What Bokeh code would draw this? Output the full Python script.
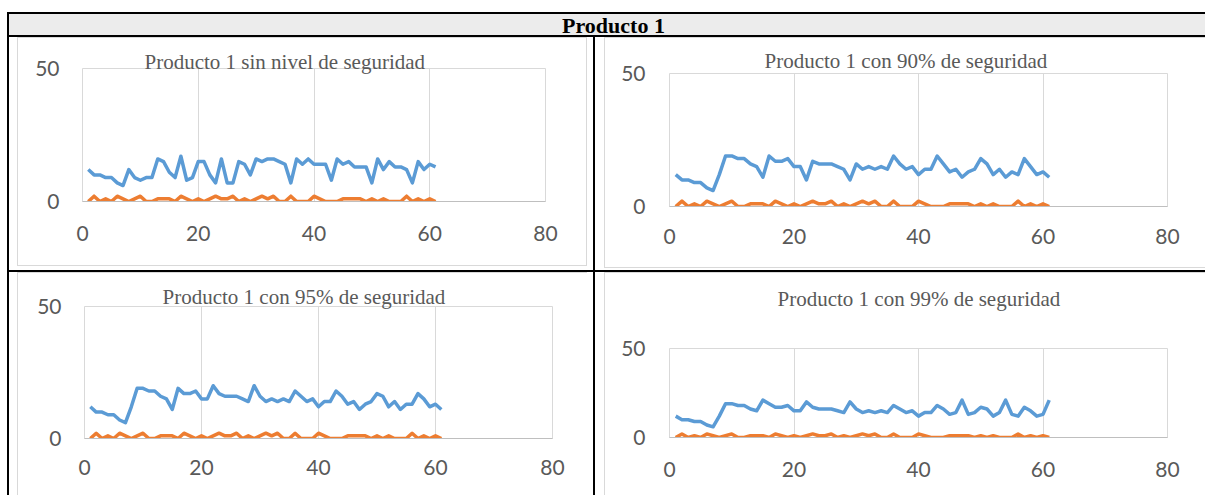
from bokeh.plotting import figure
from bokeh.models import Range1d, Label, FixedTicker, Spacer, ColumnDataSource
from bokeh.layouts import row, column
from bokeh.embed import file_html
from bokeh.resources import INLINE

# ---------------- data ----------------
periodo = list(range(1, 62))

faltante = [0, 2, 0, 1, 0, 2, 1, 0, 1, 2, 0, 0, 1, 1, 1, 0, 2, 1, 0, 1,
            0, 1, 2, 1, 1, 2, 0, 1, 0, 1, 2, 1, 2, 0, 0, 2, 0, 0, 0, 2,
            1, 0, 0, 0, 1, 1, 1, 1, 0, 1, 0, 1, 0, 0, 0, 2, 0, 1, 0, 1, 0]

inv_sin_nivel = [12, 10, 10, 9, 9, 7, 6, 12, 9, 8, 9, 9, 16, 15, 11, 9, 17, 8, 9, 15,
                 15, 10, 7, 16, 7, 7, 15, 14, 10, 16, 15, 16, 16, 15, 14, 7, 16, 14, 16, 14,
                 14, 14, 8, 16, 14, 15, 13, 13, 13, 7, 16, 12, 15, 13, 13, 12, 7, 15, 12, 14, 13]

inv_90 = [12, 10, 10, 9, 9, 7, 6, 12, 19, 19, 18, 18, 16, 15, 11, 19, 17, 17, 18, 15,
          15, 10, 17, 16, 16, 16, 15, 14, 10, 16, 14, 15, 14, 15, 14, 19, 16, 14, 15, 12,
          14, 14, 19, 16, 13, 14, 11, 13, 14, 18, 16, 12, 14, 11, 13, 12, 18, 15, 12, 13, 11]

inv_95 = [12, 10, 10, 9, 9, 7, 6, 12, 19, 19, 18, 18, 16, 15, 11, 19, 17, 17, 18, 15,
          15, 20, 17, 16, 16, 16, 15, 14, 20, 16, 14, 15, 14, 15, 14, 18, 16, 14, 15, 12,
          14, 14, 18, 16, 13, 14, 11, 13, 14, 17, 16, 12, 14, 11, 13, 13, 17, 15, 12, 13, 11]

inv_99 = [12, 10, 10, 9, 9, 7, 6, 12, 19, 19, 18, 18, 16, 15, 21, 19, 17, 17, 18, 15,
          15, 20, 17, 16, 16, 16, 15, 14, 20, 16, 14, 15, 14, 15, 14, 18, 16, 14, 15, 12,
          14, 14, 18, 16, 13, 14, 21, 13, 14, 17, 16, 12, 14, 21, 13, 12, 17, 15, 12, 13, 21]

x_ticks = [0, 20, 40, 60, 80]
y_ticks = [0, 50]

titulo_general = "Producto 1"
titulos = ["Producto 1 sin nivel de seguridad",
           "Producto 1 con 90% de seguridad",
           "Producto 1 con 95% de seguridad",
           "Producto 1 con 99% de seguridad"]

BLUE = "#5b9bd5"
ORANGE = "#ed7d31"
GRID = "#d9d9d9"
TXT = "#595959"


def chart(w, h, left, right, top, bottom, title, t_off, t_stand, serie, shadow, xstand, ystand):
    p = figure(width=w, height=h, x_range=Range1d(0, 80), y_range=Range1d(0, 50),
               toolbar_location=None, output_backend="svg",
               min_border_left=left, min_border_right=right,
               min_border_top=top, min_border_bottom=bottom,
               border_fill_color=None, background_fill_color="white",
               outline_line_color=GRID, outline_line_width=1)
    if title:
        p.title.text = title
        p.title.align = "left"
        p.title.offset = t_off
        p.title.standoff = t_stand
        p.title.text_font = "Liberation Serif"
        p.title.text_font_size = "21px"
        p.title.text_font_style = "normal"
        p.title.text_color = TXT
    p.xaxis.ticker = FixedTicker(ticks=x_ticks)
    p.yaxis.ticker = FixedTicker(ticks=y_ticks)
    for ax in (p.xaxis[0], p.yaxis[0]):
        ax.major_tick_out = 0
        ax.major_tick_in = 0
        ax.minor_tick_out = 0
        ax.minor_tick_in = 0
        ax.major_label_text_font = "Lato"
        ax.major_label_text_font_size = "21px"
        ax.major_label_text_color = TXT
    p.xaxis.axis_line_color = "#bfbfbf"
    p.yaxis.axis_line_color = None
    p.xaxis.major_label_standoff = xstand
    p.yaxis.major_label_standoff = ystand
    p.xgrid.grid_line_color = GRID
    p.ygrid.grid_line_color = GRID
    src = ColumnDataSource(dict(x=periodo, inv=serie, falt=faltante))
    p.line("x", "inv", source=src, line_color=BLUE, line_width=3.5, line_join="round")
    p.line("x", "falt", source=src, line_color=ORANGE, line_width=3.5, line_join="round")
    p.styles = {"box-shadow": shadow}
    return p


def bar(w, h):
    return Spacer(width=w, height=h, margin=0, styles={"background-color": "#000000"})


def sp(w, h):
    return Spacer(width=w, height=h, margin=0)


# header (with the table's top and bottom black rules as inset shadows)
head = figure(width=1196, height=25, x_range=Range1d(0, 1196), y_range=Range1d(0, 25),
              toolbar_location=None, output_backend="svg", min_border=0,
              x_axis_type=None, y_axis_type=None,
              background_fill_color=None, border_fill_color=None,
              outline_line_color=None)
head.xgrid.visible = False
head.ygrid.visible = False
head.add_layout(Label(x=604, y=12.5, text=titulo_general, text_align="center",
                      text_baseline="middle", text_font="Liberation Serif",
                      text_font_style="bold", text_font_size="22px", text_color="#000000"))
head.styles = {"background-color": "#ececec",
               "box-shadow": "inset 0 2px 0 0 #000000, inset 0 -2px 0 0 #000000"}

# separate title strip for the 99% chart (its title sits well above the plot)
tfig = figure(width=601, height=46, x_range=Range1d(0, 601), y_range=Range1d(0, 46),
              toolbar_location=None, output_backend="svg", min_border=0,
              x_axis_type=None, y_axis_type=None,
              background_fill_color=None, border_fill_color=None,
              outline_line_color=None)
tfig.xgrid.visible = False
tfig.ygrid.visible = False
tfig.add_layout(Label(x=301, y=19.5, text=titulos[3], text_align="center",
                      text_baseline="middle", text_font="Liberation Serif",
                      text_font_size="21px", text_color=TXT))
tfig.styles = {"box-shadow": "inset 1px 1px 0 0 #d9d9d9"}

all_sides = "inset 0 0 0 1px #d9d9d9"
no_right = "inset 1px 1px 0 0 #d9d9d9, inset 0 -1px 0 0 #d9d9d9"
left_top = "inset 1px 1px 0 0 #d9d9d9"
left_only = "inset 1px 0 0 0 #d9d9d9"

f1 = chart(570, 229, 65, 42, 31, 65, titulos[0], 62, -11, inv_sin_nivel, all_sides, 24, 23)
f2 = chart(601, 231, 65, 38, 36, 62, titulos[1], 95, 2, inv_90, no_right, 22, 24)
f3 = chart(570, 223, 67, 35, 34, 57, titulos[2], 78, -5, inv_95, left_top, 21, 23)
f4 = chart(601, 177, 65, 38, 30, 58, None, 0, 0, inv_99, left_only, 24, 24)

cell1 = row(sp(8, 233), column(f1, sp(570, 4), spacing=0), sp(6, 233), spacing=0)
cell2 = row(sp(9, 233), column(f2, sp(601, 2), spacing=0), spacing=0)
cell3 = row(sp(8, 223), f3, sp(6, 223), spacing=0)
cell4 = row(sp(9, 223), column(tfig, f4, spacing=0), spacing=0)

layout = column(
    sp(1205, 12),
    row(sp(7, 25), bar(2, 25), head, spacing=0),
    row(sp(7, 233), bar(2, 233), cell1, bar(2, 233), cell2, spacing=0),
    row(sp(7, 2), bar(1198, 2), spacing=0),
    row(sp(7, 223), bar(2, 223), cell3, bar(2, 223), cell4, spacing=0),
    spacing=0,
)

open("out.html", "w").write(file_html(layout, INLINE))
